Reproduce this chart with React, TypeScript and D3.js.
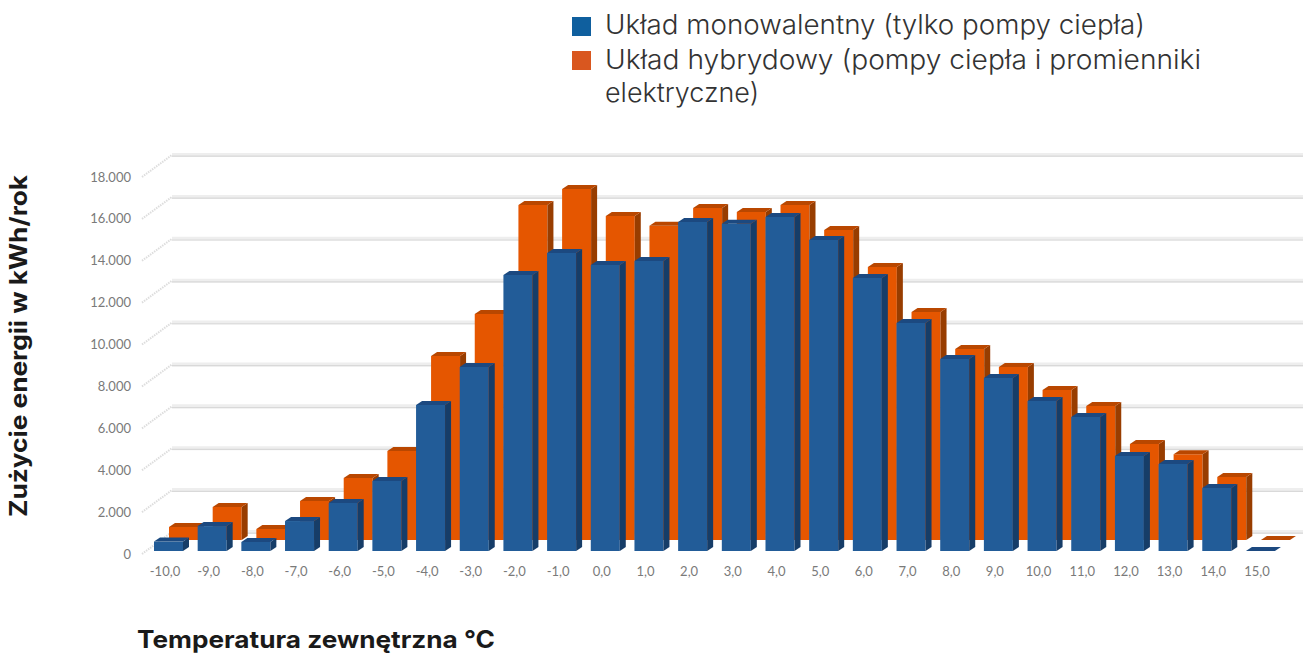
import React from "react";
import { path, scaleBand, scaleLinear } from "d3";

const categories = [
  "-10,0", "-9,0", "-8,0", "-7,0", "-6,0", "-5,0", "-4,0", "-3,0", "-2,0",
  "-1,0", "0,0", "1,0", "2,0", "3,0", "4,0", "5,0", "6,0", "7,0", "8,0",
  "9,0", "10,0", "11,0", "12,0", "13,0", "14,0", "15,0",
];
const mono = [
  450, 1190, 430, 1430, 2290, 3340, 6970, 8790, 13180, 14230, 13660, 13850,
  15710, 15620, 15950, 14850, 13040, 10890, 9170, 8260, 7160, 6400, 4540,
  4150, 3010, 0,
];
const hybrid = [
  620, 1580, 525, 1860, 2960, 4250, 8790, 10790, 16000, 16760, 15470, 15000,
  15850, 15660, 16000, 14800, 13040, 10890, 9120, 8260, 7160, 6400, 4580,
  4100, 3010, 0,
];
const yTicks = [0, 2000, 4000, 6000, 8000, 10000, 12000, 14000, 16000, 18000];
const yTickLabels = [
  "0", "2.000", "4.000", "6.000", "8.000", "10.000", "12.000", "14.000",
  "16.000", "18.000",
];

const font = "Inter, 'Noto Sans', sans-serif";
const tickFont = "Lato, 'Noto Sans', sans-serif";

// Skos wykresu 3D: przesuniecia serii i sciany tylnej wzgledem przedniej plaszczyzny
const wallDx = 30;
const wallDy = -19;
const hybridDx = 15;
const hybridDy = -11;
const depthX = 6;
const depthY = -4;

const x = scaleBand<string>()
  .domain(categories)
  .range([146.66, 1282.3])
  .paddingInner(0.336)
  .paddingOuter(0.168);
const y = scaleLinear().domain([0, 18000]).range([551, 174]);

function poly(points: [number, number][]) {
  const p = path();
  points.forEach(([a, b], i) => (i === 0 ? p.moveTo(a, b) : p.lineTo(a, b)));
  p.closePath();
  return p.toString();
}

interface BarProps {
  cat: string;
  value: number;
  dx: number;
  dy: number;
  front: string;
  side: string;
  top: string;
}

const Bar: React.FC<BarProps> = ({ cat, value, dx, dy, front, side, top }) => {
  const x0 = x(cat)! + dx;
  const x1 = x0 + x.bandwidth();
  const y0 = y(0) + dy;
  const y1 = y(value) + dy;
  return (
    <g>
      {value > 0 && (
        <path d={poly([[x0, y1], [x1, y1], [x1, y0], [x0, y0]])} fill={front} />
      )}
      {value > 0 && (
        <path
          d={poly([
            [x1, y1],
            [x1 + depthX, y1 + depthY],
            [x1 + depthX, y0 + depthY],
            [x1, y0],
          ])}
          fill={side}
        />
      )}
      <path
        d={poly([
          [x0, y1],
          [x0 + depthX, y1 + depthY],
          [x1 + depthX, y1 + depthY],
          [x1, y1],
        ])}
        fill={top}
      />
    </g>
  );
};

export default function App() {
  const xStart = x(categories[0])!;
  return (
    <svg
      width={1303}
      height={653}
      style={{ position: "absolute", left: 0, top: 0, background: "#fff" }}
      fontFamily={font}
    >
      <defs>
        <filter id="soft" x="-5%" y="-5%" width="110%" height="110%">
          <feGaussianBlur stdDeviation="0.5" />
        </filter>
      </defs>

      {/* Legenda */}
      <rect x={572} y={17} width={19} height={19} fill="#0f5f9e" />
      <rect x={572} y={51} width={19} height={19} fill="#d9571f" />
      <g fontSize={27} fontWeight={300} fill="#333333">
        <text x={605} y={34} textLength={540} lengthAdjust="spacingAndGlyphs">
          Układ monowalentny (tylko pompy ciepła)
        </text>
        <text x={605} y={69} textLength={596} lengthAdjust="spacingAndGlyphs">
          Układ hybrydowy (pompy ciepła i promienniki
        </text>
        <text x={605} y={102} textLength={154} lengthAdjust="spacingAndGlyphs">
          elektryczne)
        </text>
      </g>

      {/* Siatka: sciana tylna i skosy */}
      <g filter="url(#soft)">
        {yTicks.map((t) => (
          <g key={t}>
            <line
              x1={xStart - 12 + wallDx}
              x2={1303}
              y1={y(t) + wallDy}
              y2={y(t) + wallDy}
              stroke="#eeeeee"
              strokeWidth={4}
            />
            <line
              x1={xStart - 12 + wallDx}
              x2={1303}
              y1={y(t) + wallDy + 1.2}
              y2={y(t) + wallDy + 1.2}
              stroke="#d9d9d9"
              strokeWidth={1.2}
            />
            <line
              x1={xStart - 12}
              x2={xStart - 12 + wallDx}
              y1={y(t) + 3}
              y2={y(t) + wallDy}
              stroke="#dddddd"
              strokeWidth={2}
              strokeDasharray="1.5 1"
            />
          </g>
        ))}
      </g>

      {/* Slupki */}
      <g filter="url(#soft)">
        {categories.map((c, i) => (
          <Bar
            key={c}
            cat={c}
            value={hybrid[i]}
            dx={hybridDx}
            dy={hybridDy}
            front="#e55605"
            side="#983c06"
            top="#b94704"
          />
        ))}
        {categories.map((c, i) => (
          <Bar
            key={c}
            cat={c}
            value={mono[i]}
            dx={0}
            dy={0}
            front="#205b98"
            side="#173c68"
            top="#1a4a80"
          />
        ))}
      </g>

      {/* Etykiety osi */}
      <g fontSize={13} fill="#7a7a7a" fontFamily={tickFont}>
        {yTicks.map((t, i) => (
          <text key={t} x={131} y={y(t) + 7.5} textAnchor="end">
            {yTickLabels[i]}
          </text>
        ))}
        {categories.map((c) => (
          <text key={c} x={x(c)! + 11} y={576} textAnchor="middle">
            {c}
          </text>
        ))}
      </g>

      {/* Tytuly osi */}
      <text
        x={137}
        y={648}
        fontSize={24}
        fontWeight={700}
        fill="#1a1a1a"
        textLength={358}
        lengthAdjust="spacingAndGlyphs"
      >
        Temperatura zewnętrzna °C
      </text>
      <text
        transform="translate(27,517) rotate(-90)"
        fontSize={24}
        fontWeight={700}
        fill="#1a1a1a"
        textLength={342}
        lengthAdjust="spacingAndGlyphs"
      >
        Zużycie energii w kWh/rok
      </text>
    </svg>
  );
}
